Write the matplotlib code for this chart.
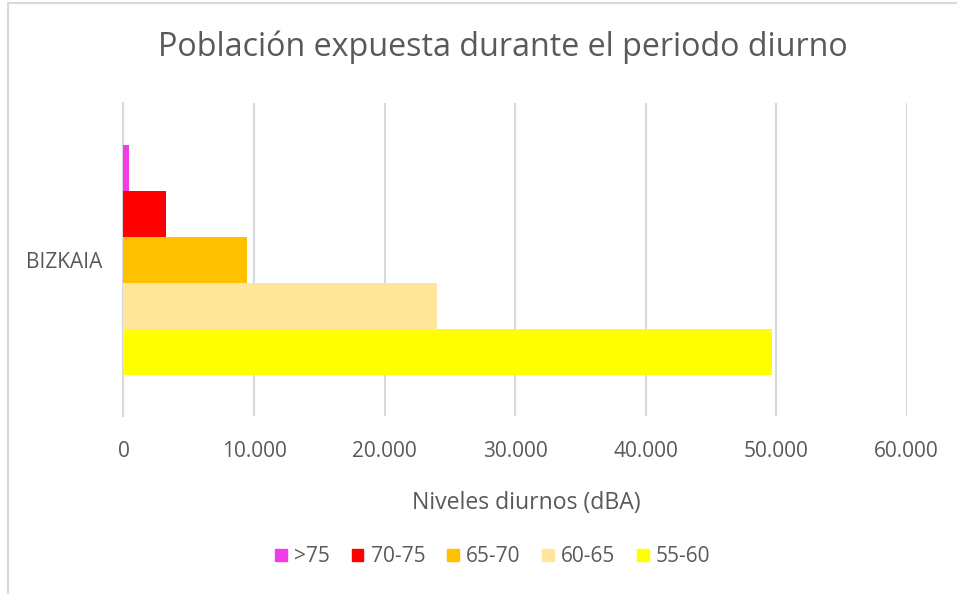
import numpy as np
import matplotlib.pyplot as plt
from matplotlib.patches import Patch
from matplotlib.ticker import FuncFormatter

plt.rcParams['font.family'] = ['Open Sans', 'DejaVu Sans']

category = 'BIZKAIA'
levels = ['>75', '70-75', '65-70', '60-65', '55-60']
population = [450, 3230, 9500, 24000, 49700]
colors = ['#f23ce6', '#ff0000', '#ffc000', '#ffe699', '#ffff00']
xticks = [0, 10000, 20000, 30000, 40000, 50000, 60000]

W, H = 957, 594
fig = plt.figure(figsize=(W / 100, H / 100), dpi=100)
ax = fig.add_axes([123.5 / W, 1 - 416 / H, (906.5 - 123.5) / W, (416 - 103) / H])

bar_h = 46 / 313
n = len(levels)
for i, (lab, val, c) in enumerate(zip(levels, population, colors)):
    y = (i - (n - 1) / 2) * bar_h
    ax.barh(y, val, height=bar_h, color=c, zorder=3)

ax.set_ylim(0.5, -0.5)
ax.set_xlim(0, 60000)
ax.set_xticks(xticks)
ax.xaxis.set_major_formatter(FuncFormatter(lambda v, p: f'{int(v):,}'.replace(',', '.')))
ax.set_yticks([0])
ax.set_yticklabels([category])
ax.grid(axis='x', color='#d9d9d9', lw=1.5, zorder=0)
for s in ['top', 'right', 'bottom']:
    ax.spines[s].set_visible(False)
ax.spines['left'].set_color('#d9d9d9')
ax.spines['left'].set_linewidth(1.5)
ax.tick_params(length=0, colors='#595959', labelsize=15)
ax.tick_params(axis='x', pad=18)
ax.tick_params(axis='y', pad=15)
for t in ax.get_yticklabels():
    t.set_fontsize(15)

fig.text(503 / W, 1 - 47 / H, 'Población expuesta durante el periodo diurno',
         ha='center', va='center', fontsize=23.2, color='#595959')
fig.text(526 / W, 1 - 503 / H, 'Niveles diurnos (dBA)',
         ha='center', va='center', fontsize=16.6, color='#595959')

handles = [Patch(color=c, label=l) for l, c in zip(levels, colors)]
fig.legend(handles=handles, loc='center', bbox_to_anchor=(493 / W, 1 - 557 / H),
           ncol=5, frameon=False, fontsize=15, labelcolor='#595959',
           handlelength=0.55, handleheight=0.55, handletextpad=0.35, columnspacing=1.05)

# outer chart border (left and top visible)
fig.add_artist(plt.Line2D([8 / W, 8 / W], [0, 1 - 3 / H], color='#d9d9d9', lw=1.5))
fig.add_artist(plt.Line2D([8 / W, 1], [1 - 3 / H, 1 - 3 / H], color='#d9d9d9', lw=1.5))

fig.savefig('out.png', dpi=100)
